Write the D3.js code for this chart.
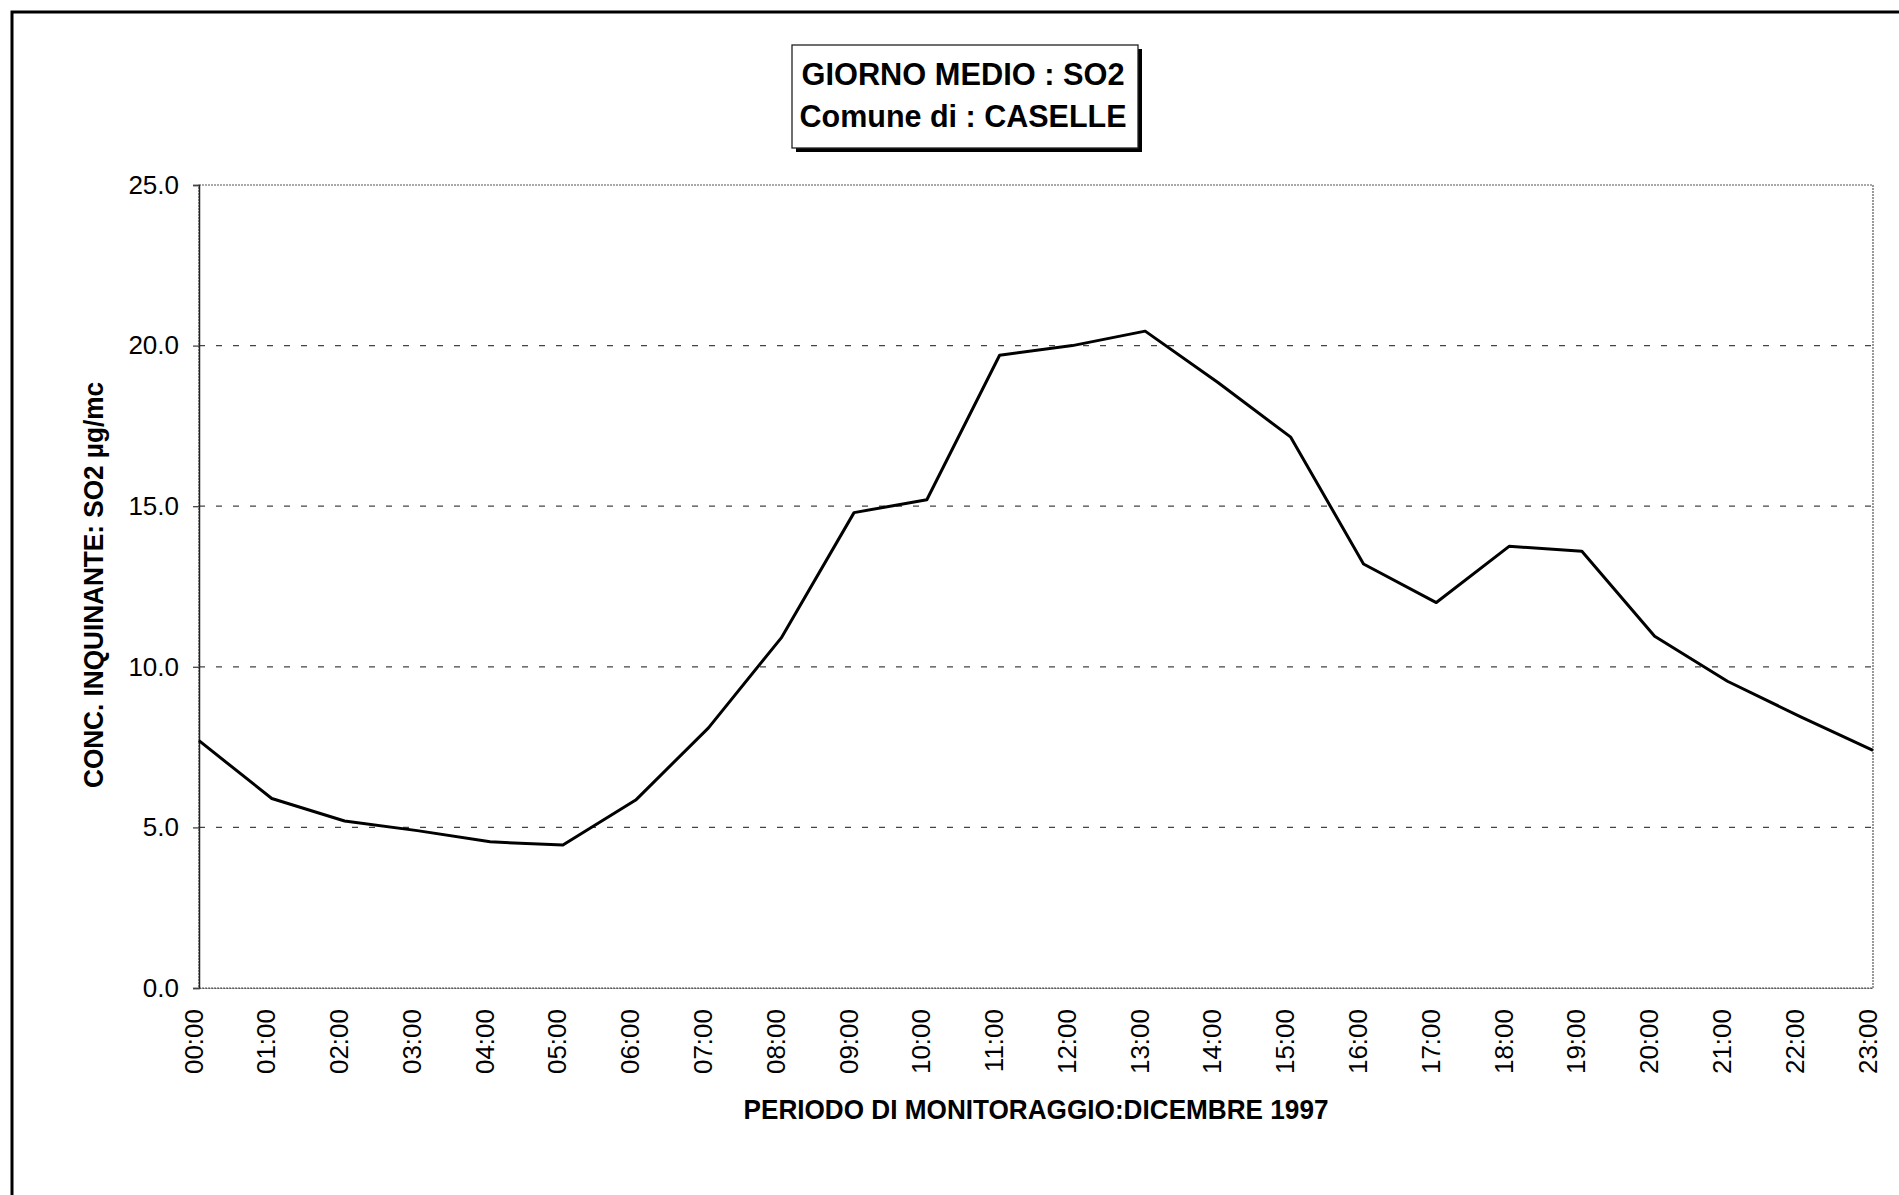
<!DOCTYPE html>
<html>
<head>
<meta charset="utf-8">
<script src="https://cdn.jsdelivr.net/npm/d3@7"></script>
<style>
  body { margin: 0; background: #fff; }
  svg { display: block; font-family: "Liberation Sans", Arial, sans-serif; }
</style>
</head>
<body>
<div id="chart"></div>
<script>
let hours = ["00:00", "01:00", "02:00", "03:00", "04:00", "05:00", "06:00", "07:00", "08:00", "09:00", "10:00", "11:00",
  "12:00", "13:00", "14:00", "15:00", "16:00", "17:00", "18:00", "19:00", "20:00", "21:00", "22:00", "23:00"];

let so2 = [7.7, 5.9, 5.2, 4.9, 4.55, 4.45, 5.85, 8.1, 10.9, 14.8, 15.2, 19.7,
  20.0, 20.45, 18.85, 17.15, 13.2, 12.0, 13.75, 13.6, 10.95, 9.55, 8.45, 7.4];

let yTicks = [0, 5, 10, 15, 20, 25];

let width = 1899, height = 1195;
let plotLeft = 199, plotRight = 1873, plotTop = 185, plotBottom = 988;

let svg = d3.select("#chart")
  .append("svg")
  .attr("width", width)
  .attr("height", height);

// cornice esterna (tagliata a destra e in basso)
svg.append("rect")
  .attr("x", 12).attr("y", 12)
  .attr("width", 1960).attr("height", 1260)
  .attr("fill", "none")
  .attr("stroke", "#000")
  .attr("stroke-width", 3);

let x = d3.scalePoint()
  .domain(hours)
  .range([plotLeft, plotRight]);

let y = d3.scaleLinear()
  .domain([0, 25])
  .range([plotBottom, plotTop]);

/* griglia */
svg.append("g")
  .selectAll("line")
  .data(yTicks.filter(function(d) { return d > 0 && d < 25; }))
  .enter().append("line")
  .attr("x1", plotLeft).attr("x2", plotRight)
  .attr("y1", function(d) { return y(d); })
  .attr("y2", function(d) { return y(d); })
  .attr("stroke", "#444")
  .attr("stroke-width", 1.3)
  .attr("stroke-dasharray", "6,11");

// bordo area del grafico
svg.append("rect")
  .attr("x", plotLeft).attr("y", plotTop)
  .attr("width", plotRight - plotLeft).attr("height", plotBottom - plotTop)
  .attr("fill", "none")
  .attr("stroke", "#555")
  .attr("stroke-width", 1.2)
  .attr("stroke-dasharray", "2,1");

/* asse y */
let yAxis = svg.append("g")
  .attr("transform", "translate(" + plotLeft + ",0)")
  .call(d3.axisLeft(y).tickValues(yTicks).tickFormat(d3.format(".1f")).tickSize(6).tickPadding(14));

yAxis.select(".domain").attr("stroke", "#222").attr("stroke-width", 1.5);
yAxis.selectAll(".tick line").attr("stroke", "#444").attr("stroke-width", 1.3);
yAxis.selectAll(".tick text")
  .attr("font-size", "26px")
  .attr("fill", "#000")
  .attr("font-family", "Liberation Sans, Arial, sans-serif");

/* asse x */
let xAxis = svg.append("g")
  .attr("transform", "translate(0," + plotBottom + ")")
  .call(d3.axisBottom(x).tickSize(0).tickPadding(0));

xAxis.select(".domain").attr("stroke", "#555").attr("stroke-width", 1.2).attr("stroke-dasharray", "2,1");
xAxis.selectAll(".tick text")
  .attr("font-size", "26px")
  .attr("fill", "#000")
  .attr("font-family", "Liberation Sans, Arial, sans-serif")
  .attr("text-anchor", "end")
  .attr("dy", null)
  .attr("y", 0)
  .attr("transform", "translate(3,21) rotate(-90)");

/* linea */
let line = d3.line()
  .x(function(d, i) { return x(hours[i]); })
  .y(function(d) { return y(d); });

svg.append("path")
  .datum(so2)
  .attr("d", line)
  .attr("fill", "none")
  .attr("stroke", "#000")
  .attr("stroke-width", 3)
  .attr("stroke-linejoin", "round");

/* titoli assi */
svg.append("text")
  .attr("transform", "translate(103,585) rotate(-90)")
  .attr("text-anchor", "middle")
  .attr("font-size", "28px")
  .attr("font-weight", "bold")
  .attr("textLength", 406)
  .attr("lengthAdjust", "spacingAndGlyphs")
  .text("CONC. INQUINANTE: SO2 µg/mc");

svg.append("text")
  .attr("x", (plotLeft + plotRight) / 2)
  .attr("y", 1119)
  .attr("text-anchor", "middle")
  .attr("font-size", "28px")
  .attr("font-weight", "bold")
  .attr("textLength", 585)
  .attr("lengthAdjust", "spacingAndGlyphs")
  .text("PERIODO DI MONITORAGGIO:DICEMBRE 1997");

/* riquadro titolo */
let tx = 792, ty = 45, tw = 346, th = 103;

svg.append("rect")
  .attr("x", tx + 4).attr("y", ty + 4)
  .attr("width", tw).attr("height", th)
  .attr("fill", "#000");

svg.append("rect")
  .attr("x", tx).attr("y", ty)
  .attr("width", tw).attr("height", th)
  .attr("fill", "#fff")
  .attr("stroke", "#222")
  .attr("stroke-width", 1.3);

svg.append("text")
  .attr("x", tx + tw / 2 - 2).attr("y", 85)
  .attr("text-anchor", "middle")
  .attr("font-size", "31px")
  .attr("font-weight", "bold")
  .attr("textLength", 323)
  .attr("lengthAdjust", "spacingAndGlyphs")
  .text("GIORNO MEDIO : SO2");

svg.append("text")
  .attr("x", tx + tw / 2 - 2).attr("y", 127)
  .attr("text-anchor", "middle")
  .attr("font-size", "31px")
  .attr("font-weight", "bold")
  .attr("textLength", 327)
  .attr("lengthAdjust", "spacingAndGlyphs")
  .text("Comune di : CASELLE");
</script>
</body>
</html>
